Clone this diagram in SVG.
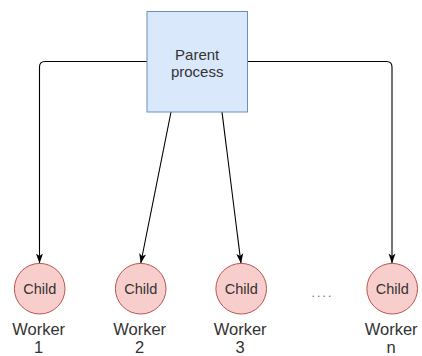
<svg xmlns="http://www.w3.org/2000/svg" width="422" height="356" viewBox="0 0 422 356">
  <style>
    text { font-family: "Liberation Sans", Arial, sans-serif; fill: #333333; text-anchor: middle; }
    .parent { fill: #dae8fc; stroke: #6c8ebf; stroke-width: 1; }
    .child { fill: #f8cecc; stroke: #b85450; stroke-width: 1; }
    .edge { fill: none; stroke: #000000; stroke-width: 1.1; marker-end: url(#arrow); }
    .lbl-box { font-size: 15px; }
    .lbl-child { font-size: 14.5px; }
    .lbl-worker { font-size: 16.5px; }
  </style>
  <defs>
    <marker id="arrow" markerWidth="10" markerHeight="8" refX="10" refY="4" orient="auto" markerUnits="userSpaceOnUse">
      <path d="M0,0.5 L10,4 L0,7.5 L2.5,4 Z" fill="#000000"/>
    </marker>
  </defs>

  <!-- connectors from the parent process to each child -->
  <g id="connectors">
    <path class="edge" d="M147,61.5 H45 Q39.5,61.5 39.5,67 V263.5"/>
    <path class="edge" d="M171,112 L140.7,263.5"/>
    <path class="edge" d="M222,112 L241,263.5"/>
    <path class="edge" d="M247,61.5 H386.5 Q392,61.5 392,67 V263.5"/>
  </g>

  <g id="parent">
    <rect class="parent" x="147" y="11.5" width="100.5" height="100.5"/>
    <text class="lbl-box" x="197.2" y="59.5">Parent</text>
    <text class="lbl-box" x="197.2" y="76.5">process</text>
  </g>

  <g id="worker1">
    <circle class="child" cx="39.7" cy="288.7" r="25.3"/>
    <text class="lbl-child" x="39.7" y="294">Child</text>
    <text class="lbl-worker" x="38.7" y="334.5">Worker</text>
    <text class="lbl-worker" x="38.7" y="352.5">1</text>
  </g>

  <g id="worker2">
    <circle class="child" cx="140.7" cy="288.7" r="25.3"/>
    <text class="lbl-child" x="140.7" y="294">Child</text>
    <text class="lbl-worker" x="139.7" y="334.5">Worker</text>
    <text class="lbl-worker" x="139.7" y="352.5">2</text>
  </g>

  <g id="worker3">
    <circle class="child" cx="241.2" cy="288.7" r="25.3"/>
    <text class="lbl-child" x="241.2" y="294">Child</text>
    <text class="lbl-worker" x="240.2" y="334.5">Worker</text>
    <text class="lbl-worker" x="240.2" y="352.5">3</text>
  </g>

  <g id="ellipsis">
    <text x="322.5" y="297" style="font-size:12px; letter-spacing:2.2px; fill:#666666">....</text>
  </g>

  <g id="workern">
    <circle class="child" cx="392.2" cy="288.7" r="25.3"/>
    <text class="lbl-child" x="392.2" y="294">Child</text>
    <text class="lbl-worker" x="391.2" y="334.5">Worker</text>
    <text class="lbl-worker" x="391.2" y="352.5">n</text>
  </g>
</svg>
